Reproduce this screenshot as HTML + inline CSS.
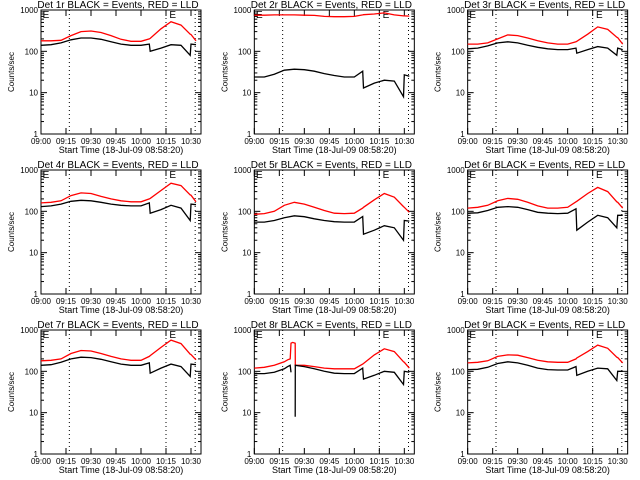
<!DOCTYPE html>
<html><head><meta charset="utf-8"><style>
html,body{margin:0;padding:0;background:#fff;}
svg{display:block;font-family:"Liberation Sans",sans-serif;}
</style></head><body>
<svg id="chart" width="640" height="480" viewBox="0 0 640 480" xmlns="http://www.w3.org/2000/svg"></svg>
<script>
const T = [0,6,12,18,24,30,36,42,48,54,60,65,65.5,72,78,84,89.5,90,93];
const T8 = [0,6,12,18,20,21.5,22,23,24.5,24.6,30,36,42,48,54,60,65,65.5,72,78,84,89.5,90,93];
const black1 = [140,145,160,190,210,210,195,170,150,140,140,150,100,120,145,140,80,150,145];
const red1 = [180,180,185,240,300,310,285,240,195,175,175,200,205,350,520,430,260,255,180];
const black2 = [24,24,28,35,37,36,33,29,26,24,24,33,13,17,20,19,8,27,25];
const red2 = [750,750,760,760,760,750,740,700,690,690,700,760,770,800,850,760,720,720,710];
const black3 = [115,120,135,160,170,160,140,125,115,110,110,120,90,110,130,120,80,120,110];
const red3 = [150,150,160,200,250,240,210,180,160,150,150,170,175,260,390,340,220,215,150];
const black4 = [130,135,150,175,185,180,165,150,140,135,135,160,90,110,140,120,60,150,145];
const red4 = [160,165,180,240,280,270,230,200,180,170,170,200,205,320,480,420,250,245,170];
const black5 = [55,55,60,70,78,74,66,60,56,55,55,75,28,35,45,40,20,60,58];
const red5 = [85,88,100,140,165,150,125,105,90,88,90,120,125,190,270,220,130,125,95];
const black6 = [90,92,105,125,130,125,110,95,90,88,90,115,35,55,80,70,40,80,80];
const red6 = [120,125,140,180,205,195,165,135,120,120,125,170,175,270,380,300,170,165,120];
const black7 = [140,145,165,200,220,215,195,170,150,140,140,160,90,120,150,130,75,150,145];
const red7 = [180,185,200,270,320,310,270,230,200,185,185,230,240,380,570,470,260,255,190];
const black8 = [88,88,95,115,130,140,95,null,8,140,130,115,100,90,88,88,120,65,80,100,95,48,100,95];
const red8 = [120,125,140,170,190,200,480,500,480,140,140,130,120,115,115,115,150,155,250,350,300,170,165,120];
const black9 = [110,112,125,155,170,160,140,120,110,108,108,130,80,100,120,115,60,100,100];
const red9 = [160,165,180,230,250,245,215,185,170,165,165,200,210,300,430,360,220,215,160];
const xTickLabels = ["09:00","09:15","09:30","09:45","10:00","10:15","10:30"];
const yTickLabels = ["1","10","100","1000"];
const dottedMinutes = [17,75,92.5];
const eMarkMinutes = [1,77];

const panels = [
 {t:T,b:black1,r:red1},{t:T,b:black2,r:red2},{t:T,b:black3,r:red3},
 {t:T,b:black4,r:red4},{t:T,b:black5,r:red5},{t:T,b:black6,r:red6},
 {t:T,b:black7,r:red7},{t:T8,b:black8,r:red8},{t:T,b:black9,r:red9}
];
const NS="http://www.w3.org/2000/svg";
const svg=document.getElementById('chart');
function mk(tag,attrs,parent){const e=document.createElementNS(NS,tag);for(const k in attrs)e.setAttribute(k,attrs[k]);parent.appendChild(e);return e;}

panels.forEach((p,i)=>{
  const c=i%3, r=Math.floor(i/3);
  const ox=c*213.33, oy=r*160;
  const L=ox+41, R=ox+201, Tp=oy+10, B=oy+134;
  const xs=m=>L+(m/96)*(R-L);
  const ys=v=>B-(Math.log10(v)/3)*(B-Tp);
  const g=mk('g',{},svg);
  
  
  const title=mk('text',{x:ox+118,y:oy+8,'font-size':10,'text-anchor':'middle',fill:'#000'},g);
  title.textContent='Det '+(i+1)+'r BLACK = Events, RED = LLD';
  
  
  const yl=mk('text',{x:0,y:0,'font-size':8,'text-anchor':'middle',fill:'#000',transform:'translate('+(ox+14)+','+(oy+72)+') rotate(-90)'},g);
  yl.textContent='Counts/sec';
  
  
  const xl=mk('text',{x:ox+121,y:oy+153,'font-size':9,'text-anchor':'middle',fill:'#000'},g);
  xl.textContent='Start Time (18-Jul-09 08:58:20)';
  
  
  const frame=mk('rect',{x:L,y:Tp,width:R-L,height:B-Tp,fill:'none',stroke:'#000','stroke-width':1},g);
  
  
  // y ticks
  yTickLabels.forEach((lab,k)=>{
    const v=Math.pow(10,k), y=ys(v);
    mk('line',{x1:L,x2:L+6,y1:y,y2:y,stroke:'#000'},g);
    mk('line',{x1:R,x2:R-6,y1:y,y2:y,stroke:'#000'},g);
    const tl=mk('text',{x:L-3,y:y+3,'font-size':8,'text-anchor':'end',fill:'#000'},g);
    tl.textContent=lab;
    
    
    if(k<3)for(let m=2;m<10;m++){const yy=ys(v*m);
      mk('line',{x1:L,x2:L+3,y1:yy,y2:yy,stroke:'#000'},g);
      mk('line',{x1:R,x2:R-3,y1:yy,y2:yy,stroke:'#000'},g);}
  });
  xTickLabels.forEach((lab,k)=>{
    const x=xs(k*15);
    mk('line',{x1:x,x2:x,y1:B,y2:B-6,stroke:'#000'},g);
    mk('line',{x1:x,x2:x,y1:Tp,y2:Tp+6,stroke:'#000'},g);
    const tl=mk('text',{x:x,y:B+10,'font-size':8,'text-anchor':'middle',fill:'#000'},g);
    tl.textContent=lab;
    
    
  });
  dottedMinutes.forEach(m=>{
    const l=mk('line',{x1:xs(m),x2:xs(m),y1:Tp,y2:B,stroke:'#000','stroke-dasharray':'1,3'},g);
    
    
  });
  eMarkMinutes.forEach(m=>{
    const e=mk('text',{x:xs(m),y:Tp+8,'font-size':10,fill:'#000'},g);
    e.textContent='E';
    
    
  });
  function path(vals,color,name){
    let d='',pen=false;
    p.t.forEach((m,j)=>{const v=vals[j];
      if(v==null){pen=false;return;}
      d+=(pen?'L':'M')+xs(m).toFixed(1)+','+ys(v).toFixed(1);pen=true;});
    const pa=mk('path',{d:d,fill:'none',stroke:color,'stroke-width':1.3},g);
    
    
  }
  path(p.r,'#f00','lld-series');
  path(p.b,'#000','events-series');
});
</script>
</body></html>
